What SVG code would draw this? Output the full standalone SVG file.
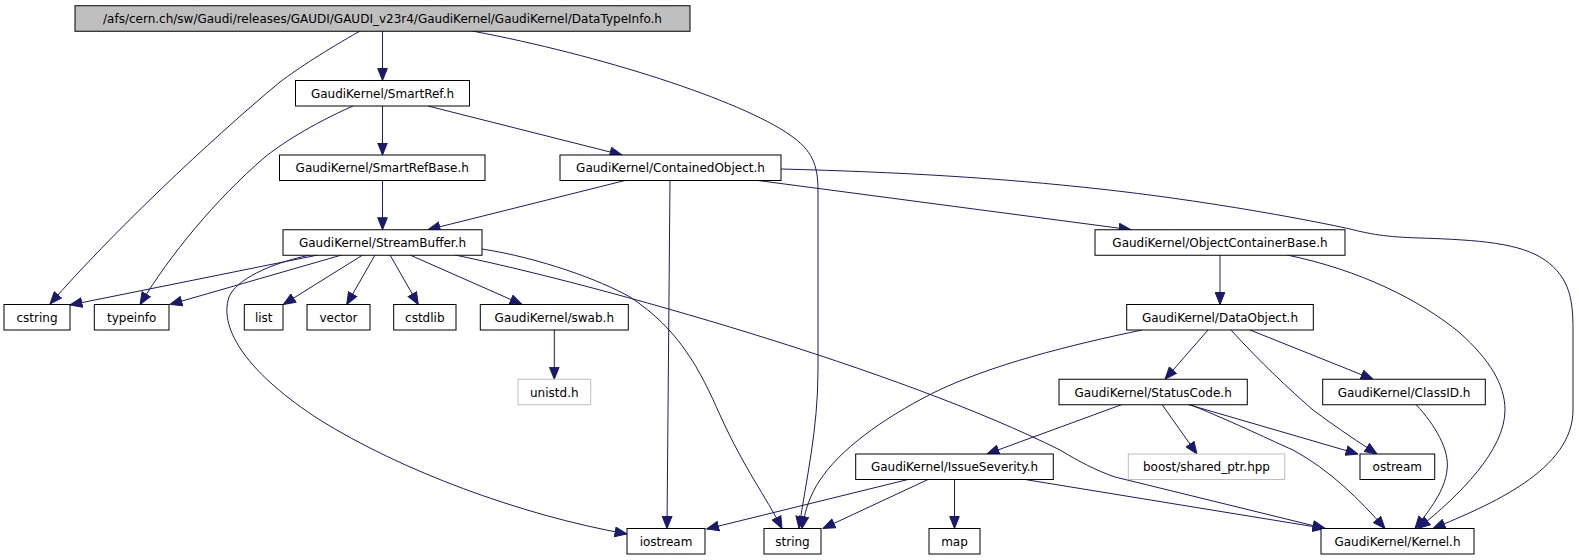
<svg xmlns="http://www.w3.org/2000/svg" width="1579" height="560" viewBox="0 0 1579 560">
<defs>
<marker id="ah" markerUnits="userSpaceOnUse" markerWidth="13" markerHeight="11" viewBox="0 0 13 11" refX="12.5" refY="5.5" orient="auto">
<path d="M0.5,0.7 L12.5,5.5 L0.5,10.3 z" fill="#191970" stroke="#191970" stroke-width="1"/>
</marker>
<style>
.n rect{fill:#ffffff;stroke:#000000;stroke-width:1}
.n.root rect{fill:#bfbfbf}
.n.ext rect{stroke:#bfbfbf}
.n text{font-family:"DejaVu Sans","Noto Sans",sans-serif;font-size:12px;fill:#000000;text-anchor:middle}
#edges path{fill:none;stroke:#191970;stroke-width:1;marker-end:url(#ah)}
</style>
</defs>
<rect x="0" y="0" width="1579" height="560" fill="#ffffff"/>
<g id="edges">
<path d="M360,31 C325,51 300,67 280,82 C210,140 110,235 50,304"/>
<path d="M382.5,31 L382.5,80.5"/>
<path d="M472,31 C600,55 740,100 790,135 C812,150 818,165 818,190 L818,370 C818,430 806,480 799,528.5"/>
<path d="M353,106 C310,125 280,145 265,157 C215,200 170,255 140,304.5"/>
<path d="M382.5,106 L382.5,155"/>
<path d="M428,106 L622,155"/>
<path d="M382.5,180.5 L382.5,229.75"/>
<path d="M625,180.5 L428,229.75"/>
<path d="M670,180.5 L667,528.5"/>
<path d="M758,180.5 L1131,229.75"/>
<path d="M781,169 C900,172 1000,178 1100,189 C1200,200 1300,218 1350,229 C1370,234 1385,237 1420,238 C1480,240 1520,243 1545,260 C1570,278 1573,300 1573,330 L1573,410 C1573,470 1490,505 1433,528.5"/>
<path d="M318,255 L70,305"/>
<path d="M341.7,255 L170,304.5"/>
<path d="M362.7,255 L283.3,304.5"/>
<path d="M375,255 L346.7,304.5"/>
<path d="M390,255 L418.3,304.5"/>
<path d="M410,255 L522,304.5"/>
<path d="M310,255 C268,264 236,280 229,297 C218,330 250,375 320,420 C400,470 520,515 627,534"/>
<path d="M482,249 C540,258 600,280 630,297 C680,330 700,370 720,415 C745,470 765,495 782,528.5"/>
<path d="M455,255 C600,285 900,370 1060,450 C1080,462 1095,470 1115,477 L1325,528.5"/>
<path d="M554.3,329.5 L554.3,379.25"/>
<path d="M1220,255 L1220,304.5"/>
<path d="M1287,255 C1360,270 1420,300 1460,333 C1490,360 1505,385 1505,410 C1505,450 1460,495 1418,528.5"/>
<path d="M1142,330 C1070,345 990,365 933,393 C880,420 840,450 820,480 C810,495 805,510 802,528.5"/>
<path d="M1208,330 L1165,379.25"/>
<path d="M1231,330 C1260,362 1290,390 1313,410 C1340,430 1360,443 1377,454"/>
<path d="M1250,330 L1373,379.25"/>
<path d="M1122,404.5 L987,454"/>
<path d="M1162,404.5 L1197,454"/>
<path d="M1188,404.5 L1358,454"/>
<path d="M1190,404.5 C1240,425 1270,440 1293,450 C1330,470 1360,500 1385,528.5"/>
<path d="M1416,404.5 C1435,425 1450,450 1447,470 C1445,490 1430,510 1415,528.5"/>
<path d="M908,479.5 L706.7,529"/>
<path d="M928,479.5 L823,528.5"/>
<path d="M954.5,479.5 L954.5,528.5"/>
<path d="M1025,479.5 L1325,528.5"/>
</g>
<g id="n_root" class="n root"><rect x="75" y="5.75" width="615" height="25.5"/><text x="382.5" y="23">/afs/cern.ch/sw/Gaudi/releases/GAUDI/GAUDI_v23r4/GaudiKernel/GaudiKernel/DataTypeInfo.h</text></g>
<g id="n_smartref" class="n"><rect x="295.5" y="80.5" width="174" height="25.5"/><text x="382.5" y="97.8">GaudiKernel/SmartRef.h</text></g>
<g id="n_smartrefbase" class="n"><rect x="279.5" y="155" width="205.5" height="25.5"/><text x="382.25" y="172.3">GaudiKernel/SmartRefBase.h</text></g>
<g id="n_containedobject" class="n"><rect x="560" y="155" width="221" height="25.5"/><text x="670.5" y="172.3">GaudiKernel/ContainedObject.h</text></g>
<g id="n_streambuffer" class="n"><rect x="283" y="229.75" width="199" height="25.5"/><text x="382.5" y="247">GaudiKernel/StreamBuffer.h</text></g>
<g id="n_objectcontainerbase" class="n"><rect x="1095" y="229.75" width="250" height="25.5"/><text x="1220" y="247">GaudiKernel/ObjectContainerBase.h</text></g>
<g id="n_cstring" class="n"><rect x="4" y="304.5" width="66" height="25.5"/><text x="37" y="321.8">cstring</text></g>
<g id="n_typeinfo" class="n"><rect x="94.3" y="304.5" width="74.7" height="25.5"/><text x="131.7" y="321.8">typeinfo</text></g>
<g id="n_list" class="n"><rect x="244.3" y="304.5" width="38.7" height="25.5"/><text x="263.7" y="321.8">list</text></g>
<g id="n_vector" class="n"><rect x="307" y="304.5" width="63" height="25.5"/><text x="338.5" y="321.8">vector</text></g>
<g id="n_cstdlib" class="n"><rect x="393.7" y="304.5" width="62.3" height="25.5"/><text x="424.8" y="321.8">cstdlib</text></g>
<g id="n_swab" class="n"><rect x="480.3" y="304.5" width="148" height="25.5"/><text x="554.3" y="321.8">GaudiKernel/swab.h</text></g>
<g id="n_dataobject" class="n"><rect x="1126.7" y="304.5" width="186.6" height="25.5"/><text x="1220" y="321.8">GaudiKernel/DataObject.h</text></g>
<g id="n_unistd" class="n ext"><rect x="518" y="379.25" width="72.7" height="25.5"/><text x="554.3" y="396.5">unistd.h</text></g>
<g id="n_statuscode" class="n"><rect x="1059" y="379.25" width="188.3" height="25.5"/><text x="1153.1" y="396.5">GaudiKernel/StatusCode.h</text></g>
<g id="n_classid" class="n"><rect x="1322.7" y="379.25" width="162.6" height="25.5"/><text x="1404" y="396.5">GaudiKernel/ClassID.h</text></g>
<g id="n_issueseverity" class="n"><rect x="855.7" y="454" width="197.6" height="25.5"/><text x="954.5" y="471.3">GaudiKernel/IssueSeverity.h</text></g>
<g id="n_boost" class="n ext"><rect x="1128.3" y="454" width="156.4" height="25.5"/><text x="1206.5" y="471.3">boost/shared_ptr.hpp</text></g>
<g id="n_ostream" class="n"><rect x="1360" y="454" width="74.7" height="25.5"/><text x="1397.3" y="471.3">ostream</text></g>
<g id="n_iostream" class="n"><rect x="627" y="528.5" width="78" height="25.5"/><text x="666" y="545.8">iostream</text></g>
<g id="n_string" class="n"><rect x="764" y="528.5" width="57" height="25.5"/><text x="792.5" y="545.8">string</text></g>
<g id="n_map" class="n"><rect x="929" y="528.5" width="51" height="25.5"/><text x="954.5" y="545.8">map</text></g>
<g id="n_kernel" class="n"><rect x="1321" y="528.5" width="153" height="25.5"/><text x="1397.5" y="545.8">GaudiKernel/Kernel.h</text></g>
</svg>
